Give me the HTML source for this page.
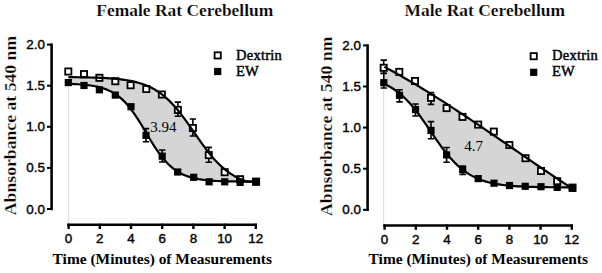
<!DOCTYPE html>
<html><head><meta charset="utf-8"><style>
html,body{margin:0;padding:0;background:#fff;}
body{width:602px;height:273px;overflow:hidden;}
svg{display:block;}
.ttl{font-family:"Liberation Serif",serif;font-weight:bold;font-size:17.45px;fill:#000;stroke:#fff;stroke-width:0.2px;}
.ylab{font-family:"Liberation Serif",serif;font-weight:bold;font-size:17.7px;fill:#000;stroke:#fff;stroke-width:0.25px;}
.xlab{font-family:"Liberation Serif",serif;font-weight:bold;font-size:15.45px;fill:#000;}
.tick{font-family:"Liberation Sans",sans-serif;font-size:13.4px;fill:#000;stroke:#000;stroke-width:0.4px;}
.leg{font-family:"Liberation Serif",serif;font-size:14.5px;fill:#000;letter-spacing:0.25px;stroke:#000;stroke-width:0.45px;}
.ann{font-family:"Liberation Serif",serif;font-size:15px;fill:#000;}
</style></head><body>
<svg width="602" height="273" viewBox="0 0 602 273">
<text x="184.8" y="15.9" text-anchor="middle" class="ttl">Female Rat Cerebellum</text>
<text transform="translate(16.4,125.5) rotate(-90)" text-anchor="middle" class="ylab">Abnsorbance at 540 nm</text>
<polygon points="68.40,77.13 70.77,77.15 73.15,77.17 75.52,77.20 77.90,77.23 80.27,77.27 82.65,77.30 85.02,77.35 87.40,77.40 89.77,77.45 92.15,77.52 94.52,77.59 96.90,77.67 99.27,77.76 101.65,77.86 104.02,77.98 106.39,78.11 108.77,78.26 111.14,78.42 113.52,78.61 115.89,78.82 118.27,79.06 120.64,79.33 123.02,79.64 125.39,79.98 127.77,80.36 130.14,80.79 132.52,81.27 134.89,81.81 137.27,82.42 139.64,83.10 142.02,83.85 144.39,84.69 146.76,85.63 149.14,86.67 151.51,87.82 153.89,89.09 156.26,90.49 158.64,92.03 161.01,93.71 163.39,95.54 165.76,97.53 168.14,99.68 170.51,102.00 172.89,104.48 175.26,107.11 177.64,109.90 180.01,112.84 182.38,115.91 184.76,119.09 187.13,122.37 189.51,125.72 191.88,129.13 194.26,132.57 196.63,136.00 199.01,139.41 201.38,142.77 203.76,146.06 206.13,149.24 208.51,152.32 210.88,155.26 213.26,158.06 215.63,160.71 218.01,163.20 220.38,165.52 222.75,167.68 225.13,169.68 227.50,171.52 229.88,173.22 232.25,174.76 234.63,176.17 237.00,177.45 239.38,178.60 241.75,179.65 244.13,180.59 246.50,181.44 248.88,181.62 251.25,181.63 253.63,181.64 256.00,181.65 256.00,181.65 253.63,181.64 251.25,181.63 248.88,181.62 246.50,181.60 244.13,181.58 241.75,181.56 239.38,181.54 237.00,181.51 234.63,181.48 232.25,181.44 229.88,181.39 227.50,181.34 225.13,181.27 222.75,181.20 220.38,181.11 218.01,181.00 215.63,180.88 213.26,180.74 210.88,180.57 208.51,180.37 206.13,180.14 203.76,179.87 201.38,179.55 199.01,179.18 196.63,178.75 194.26,178.24 191.88,177.66 189.51,176.97 187.13,176.18 184.76,175.27 182.38,174.22 180.01,173.01 177.64,171.63 175.26,170.06 172.89,168.28 170.51,166.28 168.14,164.04 165.76,161.55 163.39,158.82 161.01,155.83 158.64,152.61 156.26,149.16 153.89,145.52 151.51,141.72 149.14,137.80 146.76,133.81 144.39,129.81 142.02,125.84 139.64,121.96 137.27,118.21 134.89,114.64 132.52,111.27 130.14,108.13 127.77,105.23 125.39,102.58 123.02,100.18 120.64,98.03 118.27,96.11 115.89,94.41 113.52,92.90 111.14,91.59 108.77,90.44 106.39,89.44 104.02,88.57 101.65,87.82 99.27,87.18 96.90,86.62 94.52,86.14 92.15,85.73 89.77,85.38 87.40,85.08 85.02,84.82 82.65,84.61 80.27,84.42 77.90,84.26 75.52,84.12 73.15,84.01 70.77,83.91 68.40,83.83" fill="#d5d5d5"/>
<line x1="68.5" y1="87.0" x2="68.5" y2="223.5" stroke="#e2e2e2" stroke-width="1.2"/>
<line x1="51.6" y1="43.5" x2="51.6" y2="210.2" stroke="#000" stroke-width="2.6"/>
<line x1="47.0" y1="209.0" x2="51.6" y2="209.0" stroke="#000" stroke-width="2"/>
<text x="44.9" y="213.5" text-anchor="end" class="tick">0.0</text>
<line x1="47.0" y1="167.9" x2="51.6" y2="167.9" stroke="#000" stroke-width="2"/>
<text x="44.9" y="172.4" text-anchor="end" class="tick">0.5</text>
<line x1="47.0" y1="126.8" x2="51.6" y2="126.8" stroke="#000" stroke-width="2"/>
<text x="44.9" y="131.3" text-anchor="end" class="tick">1.0</text>
<line x1="47.0" y1="85.7" x2="51.6" y2="85.7" stroke="#000" stroke-width="2"/>
<text x="44.9" y="90.2" text-anchor="end" class="tick">1.5</text>
<line x1="47.0" y1="44.6" x2="51.6" y2="44.6" stroke="#000" stroke-width="2"/>
<text x="44.9" y="49.1" text-anchor="end" class="tick">2.0</text>
<line x1="67.3" y1="224.7" x2="257.0" y2="224.7" stroke="#000" stroke-width="2.6"/>
<line x1="68.6" y1="223.7" x2="68.6" y2="229.0" stroke="#000" stroke-width="2.4"/>
<text x="68.6" y="243.0" text-anchor="middle" class="tick">0</text>
<line x1="99.8" y1="223.7" x2="99.8" y2="229.0" stroke="#000" stroke-width="2.4"/>
<text x="99.8" y="243.0" text-anchor="middle" class="tick">2</text>
<line x1="131.0" y1="223.7" x2="131.0" y2="229.0" stroke="#000" stroke-width="2.4"/>
<text x="131.0" y="243.0" text-anchor="middle" class="tick">4</text>
<line x1="162.2" y1="223.7" x2="162.2" y2="229.0" stroke="#000" stroke-width="2.4"/>
<text x="162.2" y="243.0" text-anchor="middle" class="tick">6</text>
<line x1="193.4" y1="223.7" x2="193.4" y2="229.0" stroke="#000" stroke-width="2.4"/>
<text x="193.4" y="243.0" text-anchor="middle" class="tick">8</text>
<line x1="224.6" y1="223.7" x2="224.6" y2="229.0" stroke="#000" stroke-width="2.4"/>
<text x="224.6" y="243.0" text-anchor="middle" class="tick">10</text>
<line x1="255.8" y1="223.7" x2="255.8" y2="229.0" stroke="#000" stroke-width="2.4"/>
<text x="255.8" y="243.0" text-anchor="middle" class="tick">12</text>
<text x="52.6" y="263.5" class="xlab">Time (Minutes) of Measurements</text>
<rect x="214.6" y="52.3" width="6.2" height="6.2" fill="#fff" stroke="#000" stroke-width="1.8"/>
<rect x="214.1" y="67.9" width="7.2" height="7.2" fill="#000"/>
<text x="236.0" y="59.6" class="leg">Dextrin</text>
<text x="236.0" y="75.6" class="leg">EW</text>
<text x="150.2" y="132.4" class="ann">3.94</text>
<path d="M177.9,102.1 V116.3 M174.7,102.1 H181.1 M174.7,116.3 H181.1" stroke="#000" stroke-width="1.6" fill="none"/>
<path d="M192.9,119.0 V136.0 M189.7,119.0 H196.1 M189.7,136.0 H196.1" stroke="#000" stroke-width="1.6" fill="none"/>
<path d="M208.8,147.4 V162.3 M205.6,147.4 H212.0 M205.6,162.3 H212.0" stroke="#000" stroke-width="1.6" fill="none"/>
<path d="M146.0,128.6 V141.8 M142.8,128.6 H149.2 M142.8,141.8 H149.2" stroke="#000" stroke-width="1.6" fill="none"/>
<path d="M162.2,150.0 V162.0 M159.0,150.0 H165.4 M159.0,162.0 H165.4" stroke="#000" stroke-width="1.6" fill="none"/>
<rect x="65.2" y="68.4" width="6.2" height="6.2" fill="#fff" stroke="#000" stroke-width="1.8"/>
<rect x="80.9" y="71.0" width="6.2" height="6.2" fill="#fff" stroke="#000" stroke-width="1.8"/>
<rect x="96.3" y="74.7" width="6.2" height="6.2" fill="#fff" stroke="#000" stroke-width="1.8"/>
<rect x="112.2" y="78.1" width="6.2" height="6.2" fill="#fff" stroke="#000" stroke-width="1.8"/>
<rect x="127.5" y="82.1" width="6.2" height="6.2" fill="#fff" stroke="#000" stroke-width="1.8"/>
<rect x="143.2" y="85.9" width="6.2" height="6.2" fill="#fff" stroke="#000" stroke-width="1.8"/>
<rect x="158.8" y="91.4" width="6.2" height="6.2" fill="#fff" stroke="#000" stroke-width="1.8"/>
<rect x="174.8" y="106.8" width="6.2" height="6.2" fill="#fff" stroke="#000" stroke-width="1.8"/>
<rect x="189.8" y="124.9" width="6.2" height="6.2" fill="#fff" stroke="#000" stroke-width="1.8"/>
<rect x="205.7" y="152.0" width="6.2" height="6.2" fill="#fff" stroke="#000" stroke-width="1.8"/>
<rect x="221.6" y="169.1" width="6.2" height="6.2" fill="#fff" stroke="#000" stroke-width="1.8"/>
<rect x="237.0" y="176.1" width="6.2" height="6.2" fill="#fff" stroke="#000" stroke-width="1.8"/>
<rect x="253.0" y="178.5" width="6.2" height="6.2" fill="#fff" stroke="#000" stroke-width="1.8"/>
<path d="M68.40,77.13 L71.58,77.16 L74.76,77.19 L77.94,77.23 L81.12,77.28 L84.30,77.33 L87.48,77.40 L90.66,77.48 L93.84,77.57 L97.02,77.67 L100.20,77.80 L103.38,77.94 L106.56,78.12 L109.74,78.32 L112.92,78.56 L116.09,78.84 L119.27,79.17 L122.45,79.56 L125.63,80.01 L128.81,80.54 L131.99,81.16 L135.17,81.88 L138.35,82.72 L141.53,83.69 L144.71,84.81 L147.89,86.11 L151.07,87.60 L154.25,89.30 L157.43,91.23 L160.61,93.41 L163.79,95.87 L166.97,98.61 L170.15,101.64 L173.33,104.96 L176.51,108.56 L179.69,112.43 L182.87,116.54 L186.05,120.86 L189.23,125.32 L192.41,129.89 L195.59,134.49 L198.77,139.07 L201.95,143.56 L205.13,147.91 L208.31,152.06 L211.48,155.99 L214.66,159.65 L217.84,163.03 L221.02,166.12 L224.20,168.92 L227.38,171.43 L230.56,173.68 L233.74,175.66 L236.92,177.41 L240.10,178.94 L243.28,180.27 L246.46,181.43 L249.64,181.62 L252.82,181.64 L256.00,181.65" fill="none" stroke="#000" stroke-width="2.2"/>
<path d="M68.40,83.83 L71.58,83.94 L74.76,84.08 L77.94,84.26 L81.12,84.48 L84.30,84.75 L87.48,85.09 L90.66,85.51 L93.84,86.02 L97.02,86.65 L100.20,87.42 L103.38,88.36 L106.56,89.50 L109.74,90.89 L112.92,92.55 L116.09,94.54 L119.27,96.90 L122.45,99.65 L125.63,102.84 L128.81,106.47 L131.99,110.55 L135.17,115.05 L138.35,119.91 L141.53,125.04 L144.71,130.35 L147.89,135.71 L151.07,141.00 L154.25,146.09 L157.43,150.88 L160.61,155.30 L163.79,159.30 L166.97,162.85 L170.15,165.95 L173.33,168.63 L176.51,170.91 L179.69,172.84 L182.87,174.45 L186.05,175.78 L189.23,176.89 L192.41,177.79 L195.59,178.53 L198.77,179.14 L201.95,179.63 L205.13,180.03 L208.31,180.35 L211.48,180.61 L214.66,180.82 L217.84,181.00 L221.02,181.13 L224.20,181.24 L227.38,181.33 L230.56,181.40 L233.74,181.46 L236.92,181.51 L240.10,181.55 L243.28,181.58 L246.46,181.60 L249.64,181.62 L252.82,181.64 L256.00,181.65" fill="none" stroke="#000" stroke-width="2.2"/>
<rect x="64.7" y="79.0" width="7.2" height="7.2" fill="#000"/>
<rect x="80.4" y="81.9" width="7.2" height="7.2" fill="#000"/>
<rect x="95.8" y="86.2" width="7.2" height="7.2" fill="#000"/>
<rect x="111.7" y="91.5" width="7.2" height="7.2" fill="#000"/>
<rect x="127.4" y="103.1" width="7.2" height="7.2" fill="#000"/>
<rect x="142.4" y="131.7" width="7.2" height="7.2" fill="#000"/>
<rect x="158.6" y="152.6" width="7.2" height="7.2" fill="#000"/>
<rect x="174.1" y="168.4" width="7.2" height="7.2" fill="#000"/>
<rect x="190.1" y="173.7" width="7.2" height="7.2" fill="#000"/>
<rect x="205.5" y="178.2" width="7.2" height="7.2" fill="#000"/>
<rect x="221.1" y="178.2" width="7.2" height="7.2" fill="#000"/>
<rect x="236.5" y="178.8" width="7.2" height="7.2" fill="#000"/>
<rect x="252.5" y="178.5" width="7.2" height="7.2" fill="#000"/>
<text x="484.8" y="15.9" text-anchor="middle" class="ttl">Male Rat Cerebellum</text>
<text transform="translate(332.4,126.3) rotate(-90)" text-anchor="middle" class="ylab">Abnsorbance at 540 nm</text>
<polygon points="384.40,66.90 386.77,68.17 389.15,69.44 391.52,70.73 393.90,72.04 396.27,73.35 398.65,74.68 401.02,76.03 403.40,77.38 405.77,78.75 408.15,80.12 410.52,81.51 412.90,82.91 415.27,84.32 417.65,85.74 420.02,87.18 422.39,88.62 424.77,90.07 427.14,91.53 429.52,93.00 431.89,94.48 434.27,95.97 436.64,97.47 439.02,98.97 441.39,100.49 443.77,102.01 446.14,103.53 448.52,105.07 450.89,106.61 453.27,108.16 455.64,109.72 458.02,111.28 460.39,112.85 462.76,114.42 465.14,116.00 467.51,117.58 469.89,119.17 472.26,120.76 474.64,122.36 477.01,123.96 479.39,125.57 481.76,127.18 484.14,128.79 486.51,130.40 488.89,132.02 491.26,133.64 493.64,135.26 496.01,136.89 498.38,138.52 500.76,140.14 503.13,141.77 505.51,143.40 507.88,145.03 510.26,146.66 512.63,148.30 515.01,149.93 517.38,151.56 519.76,153.19 522.13,154.82 524.51,156.45 526.88,158.07 529.26,159.70 531.63,161.32 534.01,162.94 536.38,164.56 538.75,166.18 541.13,167.79 543.50,169.40 545.88,171.01 548.25,172.61 550.63,174.21 553.00,175.80 555.38,177.39 557.75,178.98 560.13,180.56 562.50,182.13 564.88,183.70 567.25,185.26 569.63,186.82 572.00,187.39 572.00,187.39 569.63,187.38 567.25,187.37 564.88,187.36 562.50,187.34 560.13,187.33 557.75,187.31 555.38,187.29 553.00,187.27 550.63,187.25 548.25,187.22 545.88,187.19 543.50,187.15 541.13,187.11 538.75,187.06 536.38,187.01 534.01,186.95 531.63,186.89 529.26,186.81 526.88,186.73 524.51,186.63 522.13,186.52 519.76,186.40 517.38,186.26 515.01,186.11 512.63,185.93 510.26,185.73 507.88,185.51 505.51,185.25 503.13,184.97 500.76,184.65 498.38,184.29 496.01,183.88 493.64,183.43 491.26,182.92 488.89,182.35 486.51,181.71 484.14,180.99 481.76,180.19 479.39,179.30 477.01,178.32 474.64,177.22 472.26,176.01 469.89,174.67 467.51,173.19 465.14,171.58 462.76,169.81 460.39,167.89 458.02,165.80 455.64,163.55 453.27,161.13 450.89,158.55 448.52,155.81 446.14,152.91 443.77,149.87 441.39,146.71 439.02,143.43 436.64,140.06 434.27,136.63 431.89,133.15 429.52,129.66 427.14,126.18 424.77,122.74 422.39,119.35 420.02,116.06 417.65,112.87 415.27,109.80 412.90,106.88 410.52,104.10 408.15,101.49 405.77,99.04 403.40,96.76 401.02,94.64 398.65,92.68 396.27,90.88 393.90,89.24 391.52,87.74 389.15,86.37 386.77,85.13 384.40,84.01" fill="#d5d5d5"/>
<line x1="383.6" y1="87.8" x2="383.6" y2="224.3" stroke="#e2e2e2" stroke-width="1.2"/>
<line x1="367.6" y1="44.3" x2="367.6" y2="211.0" stroke="#000" stroke-width="2.6"/>
<line x1="363.0" y1="209.8" x2="367.6" y2="209.8" stroke="#000" stroke-width="2"/>
<text x="360.9" y="214.3" text-anchor="end" class="tick">0.0</text>
<line x1="363.0" y1="168.7" x2="367.6" y2="168.7" stroke="#000" stroke-width="2"/>
<text x="360.9" y="173.2" text-anchor="end" class="tick">0.5</text>
<line x1="363.0" y1="127.6" x2="367.6" y2="127.6" stroke="#000" stroke-width="2"/>
<text x="360.9" y="132.1" text-anchor="end" class="tick">1.0</text>
<line x1="363.0" y1="86.5" x2="367.6" y2="86.5" stroke="#000" stroke-width="2"/>
<text x="360.9" y="91.0" text-anchor="end" class="tick">1.5</text>
<line x1="363.0" y1="45.4" x2="367.6" y2="45.4" stroke="#000" stroke-width="2"/>
<text x="360.9" y="49.9" text-anchor="end" class="tick">2.0</text>
<line x1="383.3" y1="225.5" x2="573.0" y2="225.5" stroke="#000" stroke-width="2.6"/>
<line x1="384.6" y1="224.5" x2="384.6" y2="229.8" stroke="#000" stroke-width="2.4"/>
<text x="384.6" y="243.8" text-anchor="middle" class="tick">0</text>
<line x1="415.8" y1="224.5" x2="415.8" y2="229.8" stroke="#000" stroke-width="2.4"/>
<text x="415.8" y="243.8" text-anchor="middle" class="tick">2</text>
<line x1="447.0" y1="224.5" x2="447.0" y2="229.8" stroke="#000" stroke-width="2.4"/>
<text x="447.0" y="243.8" text-anchor="middle" class="tick">4</text>
<line x1="478.2" y1="224.5" x2="478.2" y2="229.8" stroke="#000" stroke-width="2.4"/>
<text x="478.2" y="243.8" text-anchor="middle" class="tick">6</text>
<line x1="509.4" y1="224.5" x2="509.4" y2="229.8" stroke="#000" stroke-width="2.4"/>
<text x="509.4" y="243.8" text-anchor="middle" class="tick">8</text>
<line x1="540.6" y1="224.5" x2="540.6" y2="229.8" stroke="#000" stroke-width="2.4"/>
<text x="540.6" y="243.8" text-anchor="middle" class="tick">10</text>
<line x1="571.8" y1="224.5" x2="571.8" y2="229.8" stroke="#000" stroke-width="2.4"/>
<text x="571.8" y="243.8" text-anchor="middle" class="tick">12</text>
<text x="368.6" y="264.3" class="xlab">Time (Minutes) of Measurements</text>
<rect x="530.6" y="53.1" width="6.2" height="6.2" fill="#fff" stroke="#000" stroke-width="1.8"/>
<rect x="530.1" y="68.7" width="7.2" height="7.2" fill="#000"/>
<text x="552.0" y="60.4" class="leg">Dextrin</text>
<text x="552.0" y="76.4" class="leg">EW</text>
<text x="464.3" y="150.9" class="ann">4.7</text>
<path d="M383.7,60.1 V73.5 M380.5,60.1 H386.9 M380.5,73.5 H386.9" stroke="#000" stroke-width="1.6" fill="none"/>
<path d="M431.0,92.6 V104.4 M427.8,92.6 H434.2 M427.8,104.4 H434.2" stroke="#000" stroke-width="1.6" fill="none"/>
<path d="M383.8,73.3 V88.0 M380.6,73.3 H387.0 M380.6,88.0 H387.0" stroke="#000" stroke-width="1.6" fill="none"/>
<path d="M399.5,89.8 V101.9 M396.3,89.8 H402.7 M396.3,101.9 H402.7" stroke="#000" stroke-width="1.6" fill="none"/>
<path d="M415.5,104.0 V116.0 M412.3,104.0 H418.7 M412.3,116.0 H418.7" stroke="#000" stroke-width="1.6" fill="none"/>
<path d="M431.0,121.6 V138.7 M427.8,121.6 H434.2 M427.8,138.7 H434.2" stroke="#000" stroke-width="1.6" fill="none"/>
<path d="M446.6,147.5 V162.3 M443.4,147.5 H449.8 M443.4,162.3 H449.8" stroke="#000" stroke-width="1.6" fill="none"/>
<path d="M462.7,166.0 V174.5 M459.5,166.0 H465.9 M459.5,174.5 H465.9" stroke="#000" stroke-width="1.6" fill="none"/>
<rect x="380.6" y="64.7" width="6.2" height="6.2" fill="#fff" stroke="#000" stroke-width="1.8"/>
<rect x="396.2" y="68.8" width="6.2" height="6.2" fill="#fff" stroke="#000" stroke-width="1.8"/>
<rect x="411.9" y="77.9" width="6.2" height="6.2" fill="#fff" stroke="#000" stroke-width="1.8"/>
<rect x="427.9" y="94.7" width="6.2" height="6.2" fill="#fff" stroke="#000" stroke-width="1.8"/>
<rect x="443.5" y="105.0" width="6.2" height="6.2" fill="#fff" stroke="#000" stroke-width="1.8"/>
<rect x="459.4" y="113.8" width="6.2" height="6.2" fill="#fff" stroke="#000" stroke-width="1.8"/>
<rect x="475.1" y="121.5" width="6.2" height="6.2" fill="#fff" stroke="#000" stroke-width="1.8"/>
<rect x="490.7" y="128.5" width="6.2" height="6.2" fill="#fff" stroke="#000" stroke-width="1.8"/>
<rect x="506.3" y="141.9" width="6.2" height="6.2" fill="#fff" stroke="#000" stroke-width="1.8"/>
<rect x="522.4" y="155.1" width="6.2" height="6.2" fill="#fff" stroke="#000" stroke-width="1.8"/>
<rect x="537.9" y="167.9" width="6.2" height="6.2" fill="#fff" stroke="#000" stroke-width="1.8"/>
<rect x="554.1" y="178.1" width="6.2" height="6.2" fill="#fff" stroke="#000" stroke-width="1.8"/>
<rect x="569.4" y="184.5" width="6.2" height="6.2" fill="#fff" stroke="#000" stroke-width="1.8"/>
<path d="M384.40,66.90 L387.58,68.60 L390.76,70.32 L393.94,72.06 L397.12,73.83 L400.30,75.61 L403.48,77.43 L406.66,79.26 L409.84,81.11 L413.02,82.98 L416.20,84.88 L419.38,86.79 L422.56,88.72 L425.74,90.66 L428.92,92.63 L432.09,94.61 L435.27,96.60 L438.45,98.61 L441.63,100.64 L444.81,102.68 L447.99,104.73 L451.17,106.80 L454.35,108.87 L457.53,110.96 L460.71,113.06 L463.89,115.17 L467.07,117.29 L470.25,119.41 L473.43,121.55 L476.61,123.69 L479.79,125.84 L482.97,128.00 L486.15,130.16 L489.33,132.32 L492.51,134.49 L495.69,136.67 L498.87,138.85 L502.05,141.03 L505.23,143.21 L508.41,145.39 L511.59,147.58 L514.77,149.76 L517.95,151.95 L521.13,154.13 L524.31,156.31 L527.48,158.49 L530.66,160.66 L533.84,162.83 L537.02,165.00 L540.20,167.16 L543.38,169.32 L546.56,171.47 L549.74,173.61 L552.92,175.75 L556.10,177.88 L559.28,179.99 L562.46,182.10 L565.64,184.20 L568.82,186.29 L572.00,187.39" fill="none" stroke="#000" stroke-width="2.2"/>
<path d="M384.40,84.01 L387.58,85.54 L390.76,87.28 L393.94,89.26 L397.12,91.51 L400.30,94.02 L403.48,96.83 L406.66,99.93 L409.84,103.33 L413.02,107.02 L416.20,110.98 L419.38,115.18 L422.56,119.58 L425.74,124.13 L428.92,128.77 L432.09,133.45 L435.27,138.09 L438.45,142.64 L441.63,147.03 L444.81,151.23 L447.99,155.18 L451.17,158.86 L454.35,162.26 L457.53,165.35 L460.71,168.16 L463.89,170.67 L467.07,172.90 L470.25,174.88 L473.43,176.62 L476.61,178.14 L479.79,179.46 L482.97,180.61 L486.15,181.60 L489.33,182.46 L492.51,183.19 L495.69,183.82 L498.87,184.36 L502.05,184.83 L505.23,185.22 L508.41,185.56 L511.59,185.84 L514.77,186.09 L517.95,186.30 L521.13,186.47 L524.31,186.62 L527.48,186.75 L530.66,186.86 L533.84,186.95 L537.02,187.03 L540.20,187.09 L543.38,187.15 L546.56,187.20 L549.74,187.24 L552.92,187.27 L556.10,187.30 L559.28,187.32 L562.46,187.34 L565.64,187.36 L568.82,187.38 L572.00,187.39" fill="none" stroke="#000" stroke-width="2.2"/>
<rect x="380.2" y="79.1" width="7.2" height="7.2" fill="#000"/>
<rect x="395.9" y="91.7" width="7.2" height="7.2" fill="#000"/>
<rect x="411.9" y="106.0" width="7.2" height="7.2" fill="#000"/>
<rect x="427.4" y="126.8" width="7.2" height="7.2" fill="#000"/>
<rect x="443.0" y="151.3" width="7.2" height="7.2" fill="#000"/>
<rect x="459.1" y="166.2" width="7.2" height="7.2" fill="#000"/>
<rect x="474.6" y="175.0" width="7.2" height="7.2" fill="#000"/>
<rect x="490.4" y="179.6" width="7.2" height="7.2" fill="#000"/>
<rect x="505.9" y="181.9" width="7.2" height="7.2" fill="#000"/>
<rect x="521.6" y="182.7" width="7.2" height="7.2" fill="#000"/>
<rect x="537.4" y="183.1" width="7.2" height="7.2" fill="#000"/>
<rect x="553.6" y="183.8" width="7.2" height="7.2" fill="#000"/>
<rect x="568.9" y="184.7" width="7.2" height="7.2" fill="#000"/>
</svg>
</body></html>
